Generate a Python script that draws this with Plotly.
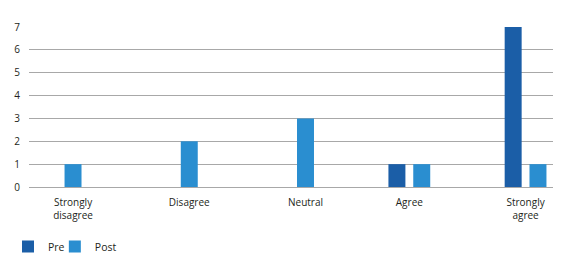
import plotly.graph_objects as go

categories = ["Strongly<br>disagree", "Disagree", "Neutral", "Agree", "Strongly<br>agree"]
pre_values = [0, 0, 0, 1, 7]
post_values = [1, 2, 3, 1, 1]
y_ticks = [0, 1, 2, 3, 4, 5, 6, 7]

PRE_COLOR = "#1b5ea7"
POST_COLOR = "#2a8ed0"
GRID = "#a8a8a8"
TEXT = "#231f20"
FONT = "Open Sans"

x_pos = list(range(len(categories)))
BARGAP = 0.573
GROUPGAP = 0.316
post_shift = (1 - BARGAP) / 4  # centre of the second bar within a group
tick_pos = [i + (post_shift if pre_values[i] == 0 else 0) for i in x_pos]

fig = go.Figure()
fig.add_trace(go.Bar(name="Pre", x=x_pos, y=pre_values, legend="legend",
                     marker=dict(color=PRE_COLOR, line=dict(width=0))))
fig.add_trace(go.Bar(name="Post", x=x_pos, y=post_values, legend="legend2",
                     marker=dict(color=POST_COLOR, line=dict(width=0))))

legend_common = dict(orientation="h", xref="container", yref="container",
                     xanchor="left", y=0.072, yanchor="middle",
                     font=dict(family=FONT, size=10.5, color=TEXT),
                     itemwidth=30, bgcolor="rgba(0,0,0,0)")

fig.update_layout(
    width=561, height=257,
    margin=dict(l=21, r=16, t=19, b=78, autoexpand=False),
    barmode="group", bargap=BARGAP, bargroupgap=GROUPGAP,
    plot_bgcolor="white", paper_bgcolor="white",
    font=dict(family=FONT, size=10, color=TEXT),
    showlegend=True,
    legend=dict(x=-0.011, **legend_common),
    legend2=dict(x=0.0835, **legend_common),
)
fig.update_xaxes(
    type="linear", range=[-0.272, 4.236],
    tickmode="array", tickvals=tick_pos, ticktext=categories,
    showgrid=False, zeroline=False, showline=False, ticks="",
    ticklabelstandoff=8, tickfont=dict(family=FONT, size=10, color=TEXT),
)
fig.update_yaxes(
    range=[0, 7], tickmode="array", tickvals=y_ticks,
    showgrid=True, gridcolor=GRID, gridwidth=1,
    zeroline=True, zerolinecolor=GRID, zerolinewidth=1,
    showline=False, ticks="", ticklabelstandoff=8,
    tickfont=dict(family=FONT, size=10, color=TEXT),
)

fig.write_html("out.html")
